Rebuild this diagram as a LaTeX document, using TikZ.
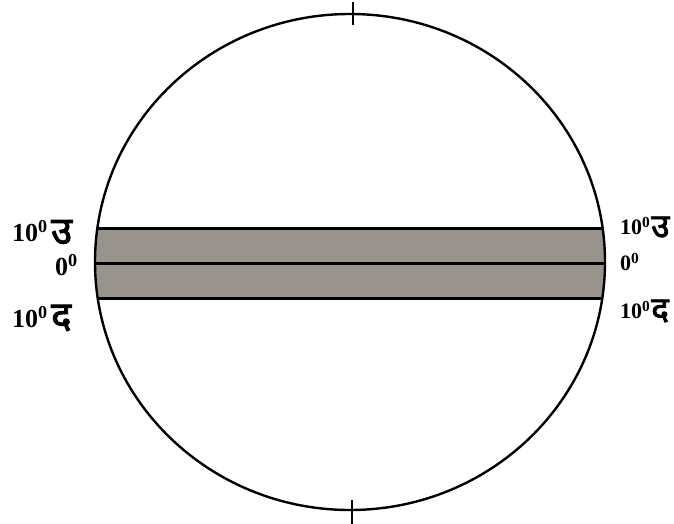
\documentclass[tikz,border=0pt]{standalone}
\usepackage{fontspec}
\setmainfont{Liberation Serif}
\newfontfamily\dev[Script=Devanagari, FakeBold=2.5]{Noto Sans}
\definecolor{bandgray}{RGB}{152,147,141}
\tikzset{
  lbl/.style={font=\fontsize{26}{28}\selectfont\bfseries, inner sep=0pt},
  dv/.style={font=\fontsize{38}{40}\dev, inner sep=0pt},
  lblr/.style={font=\fontsize{22}{24}\selectfont\bfseries, inner sep=0pt},
  dvr/.style={font=\fontsize{33}{35}\dev, inner sep=0pt},
  edge/.style={line width=3pt, black},
}
\begin{document}
\begin{tikzpicture}[x=1pt,y=-1pt]
\useasboundingbox (0,0) rectangle (674,524);
\coordinate (c) at (350,262);
% band
\begin{scope}
  \clip (c) ellipse [x radius=255, y radius=248];
  \fill[bandgray] (90,228) rectangle (610,298);
  \draw[edge] (90,228) -- (610,228);
  \draw[edge] (90,263) -- (610,263);
  \draw[edge] (90,298) -- (610,298);
\end{scope}
\draw[line width=2.4pt] (c) ellipse [x radius=255, y radius=248];
% ticks
\draw[line width=2.4pt] (353,2) -- (353,25);
\draw[line width=2.4pt] (352,500) -- (352,524);
% left labels
\node[lbl, anchor=west] (l1) at (12,231) {10$^{\mathbf{0}}$};
\node[dv, anchor=west, xshift=3pt, yshift=-1pt] (l1d) at (l1.east) {उ};
\node[lbl, anchor=east] (l2) at (78,265) {0$^{\mathbf{0}}$};
\node[lbl, anchor=west] (l3) at (12,317) {10$^{\mathbf{0}}$};
\node[dv, anchor=west, xshift=3pt, yshift=-1pt] (l3d) at (l3.east) {द};
% right labels
\node[lblr, anchor=west] (r1) at (620,226) {10$^{\mathbf{0}}$};
\node[dvr, anchor=west, xshift=0.5pt, yshift=-1pt] (r1d) at (r1.east) {उ};
\node[lblr, anchor=west] (r2) at (620,262) {0$^{\mathbf{0}}$};
\node[lblr, anchor=west] (r3) at (620,310) {10$^{\mathbf{0}}$};
\node[dvr, anchor=west, xshift=0.5pt, yshift=-1pt] (r3d) at (r3.east) {द};
\end{tikzpicture}
\end{document}
